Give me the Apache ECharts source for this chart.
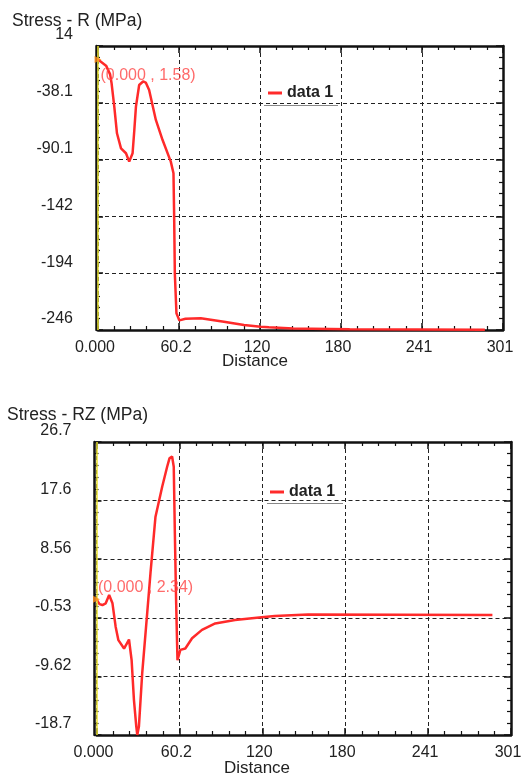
<!DOCTYPE html>
<html>
<head>
<meta charset="utf-8">
<script src="https://cdn.jsdelivr.net/npm/echarts@6/dist/echarts.min.js"></script>
<style>
  html, body { margin: 0; padding: 0; background: #fff; }
  #chart { width: 521px; height: 776px; }
</style>
</head>
<body>
<div id="chart"></div>
<script>
// x axis (both plots)
var xTicks = ["0.000", "60.2", "120", "180", "241", "301"];

// Stress - R
var rTicks = ["-246", "-194", "-142", "-90.1", "-38.1", "14"];
var rDist = [0, 6, 9, 10.1, 12.1, 14.1, 17.1, 20.8, 23.2, 25.7, 27, 28.2, 30.6, 33.5, 35.5, 38, 43, 48, 54.1, 56.1, 56.6, 57.1, 58.3, 60.5, 65, 76.4, 93.6, 108.5, 120.8, 127, 145, 187, 287.5];
var rStress = [1.58, -4, -12, -20.2, -41.6, -66, -79.8, -84.3, -92, -84.3, -63, -41.6, -21.7, -18.5, -19.5, -26.3, -53.8, -72.2, -92, -102.7, -142.4, -194.3, -231, -237.5, -236, -235.6, -238.7, -241.7, -243.3, -243.8, -245, -245.7, -246];

// Stress - RZ
var rzTicks = ["-18.7", "-9.62", "-0.53", "8.56", "17.6", "26.7"];
var rzDist = [0, 2.2, 4.3, 6.7, 9.2, 11.6, 13.9, 15.9, 20, 21.2, 23.6, 25.5, 27.2, 28.9, 29.6, 30.8, 33.2, 36.8, 39.2, 42.8, 47.7, 51.3, 53, 54.9, 56.1, 56.9, 57.8, 58.8, 59.3, 60.9, 64.5, 69.4, 76.6, 86.2, 100.6, 119.9, 129.5, 153.6, 287.5];
var rzStress = [2.34, 1.6, 1.45, 1.72, 3.0, 1.72, -1.9, -4.0, -5.3, -5.5, -3.9, -7.1, -13.3, -17.4, -18.7, -17.4, -9.1, 0.17, 6.4, 15.1, 19.8, 22.9, 24.2, 24.5, 22.9, 12.6, 2.2, -7.1, -7.3, -5.5, -5.3, -3.7, -2.4, -1.4, -0.87, -0.45, -0.25, 0.0, -0.1];

var font = "'Liberation Sans', Arial, sans-serif";
var red = "#ff2a2a";

function pairs(xs, ys) {
  return xs.map(function (x, i) { return [x, ys[i]]; });
}

// fresh style objects for every axis
function ticks() { return { show: true, inside: true, length: 7, lineStyle: { color: "#111", width: 1.5 } }; }
function minor() { return { show: true, splitNumber: 5, length: 4, lineStyle: { color: "#111", width: 1.2 } }; }
function border() { return { show: true, onZero: false, lineStyle: { color: "#111", width: 2.5 } }; }
function dashes() { return { show: true, lineStyle: { color: "#222", width: 1, type: [4, 3] } }; }

function xAxes(grid) {
  return [
    {
      gridIndex: grid, type: "value", position: "bottom", min: 0, max: 301, interval: 60.2,
      axisLine: border(), axisTick: ticks(), minorTick: minor(), splitLine: dashes(),
      axisLabel: {
        margin: 10, fontSize: 16, fontFamily: font, color: "#222", padding: [0, 6, 0, 0],
        showMinLabel: true, showMaxLabel: true,
        formatter: function (v) { return xTicks[Math.round(v / 60.2)]; }
      }
    },
    {
      gridIndex: grid, type: "value", position: "top", min: 0, max: 301, interval: 60.2,
      axisLine: border(), axisTick: ticks(), minorTick: minor(),
      splitLine: { show: false }, axisLabel: { show: false }
    }
  ];
}

function yAxes(grid, min, max, labels) {
  return [
    { gridIndex: grid, type: "value", min: min, max: max, show: false },
    {
      gridIndex: grid, type: "value", position: "left", offset: 2, min: 0, max: 5, interval: 1,
      axisLine: border(), axisTick: ticks(), minorTick: minor(), splitLine: dashes(),
      axisLabel: {
        margin: 23, fontSize: 16, fontFamily: font, color: "#222",
        verticalAlign: "bottom", padding: [0, 0, 3, 0],
        showMinLabel: true, showMaxLabel: true,
        formatter: function (v) { return labels[Math.round(v)]; }
      }
    },
    {
      gridIndex: grid, type: "value", position: "right", min: 0, max: 5, interval: 1,
      axisLine: border(), axisTick: ticks(), minorTick: minor(),
      splitLine: { show: false }, axisLabel: { show: false }
    }
  ];
}

function curve(xi, yi, data) {
  return {
    name: "data 1", type: "line", xAxisIndex: xi, yAxisIndex: yi, data: data,
    showSymbol: false, symbol: "none", clip: true,
    lineStyle: { color: red, width: 2.5 }, itemStyle: { color: red },
    markLine: {
      silent: true, symbol: "none", label: { show: false },
      lineStyle: { color: "#e8e030", width: 1.5, type: "solid" },
      data: [{ xAxis: 0 }]
    }
  };
}

function cursor(xi, yi, pt, text, offset) {
  return {
    name: "cursor", type: "scatter", xAxisIndex: xi, yAxisIndex: yi, data: [pt],
    symbol: "triangle", symbolSize: 7, symbolRotate: -90,
    itemStyle: { color: "#ff8c1a" }, z: 5,
    label: {
      show: true, position: "right", distance: 0, offset: offset,
      formatter: text, fontSize: 16, fontFamily: font, color: "#ff4545"
    }
  };
}

var option = {
  animation: false,
  backgroundColor: "#fff",
  grid: [
    { left: 98, right: 18, top: 46, height: 284, containLabel: false, outerBoundsMode: "none" },
    { left: 96.5, right: 10, top: 442, height: 293, containLabel: false, outerBoundsMode: "none" }
  ],
  xAxis: xAxes(0).concat(xAxes(1)),
  yAxis: yAxes(0, -246.3, 14, rTicks).concat(yAxes(1, -18.71, 26.74, rzTicks)),
  legend: [
    {
      left: 268, top: 85, padding: 0, data: ["data 1"], icon: "rect", itemWidth: 14, itemHeight: 3,
      selectedMode: false,
      textStyle: { fontSize: 16, fontWeight: "bold", fontFamily: font, color: "#222" }
    },
    {
      left: 270, top: 484, padding: 0, data: ["data 1"], icon: "rect", itemWidth: 14, itemHeight: 3,
      selectedMode: false,
      textStyle: { fontSize: 16, fontWeight: "bold", fontFamily: font, color: "#222" }
    }
  ],
  graphic: [
    { type: "text", x: 12, y: 21, style: { text: "Stress - R (MPa)", font: "17.5px " + font, fill: "#222", textVerticalAlign: "middle" } },
    { type: "text", x: 255, y: 361, style: { text: "Distance", font: "17px " + font, fill: "#222", textAlign: "center", textVerticalAlign: "middle" } },
    { type: "text", x: 7, y: 415, style: { text: "Stress - RZ (MPa)", font: "17.5px " + font, fill: "#222", textVerticalAlign: "middle" } },
    { type: "text", x: 257, y: 768, style: { text: "Distance", font: "17px " + font, fill: "#222", textAlign: "center", textVerticalAlign: "middle" } },
    { type: "line", shape: { x1: 264, y1: 105.5, x2: 338, y2: 105.5 }, style: { stroke: "#888", lineWidth: 1 } },
    { type: "line", shape: { x1: 267, y1: 503.5, x2: 343, y2: 503.5 }, style: { stroke: "#888", lineWidth: 1 } }
  ],
  series: [
    curve(0, 0, pairs(rDist, rStress)),
    cursor(0, 0, [rDist[0], rStress[0]], "(0.000 , 1.58)", [-1, 16]),
    curve(2, 3, pairs(rzDist, rzStress)),
    cursor(2, 3, [rzDist[0], rzStress[0]], "(0.000 , 2.34)", [-2, -12])
  ]
};

var chart = echarts.init(document.getElementById("chart"), null, { renderer: "canvas" });
chart.setOption(option);
</script>
</body>
</html>
